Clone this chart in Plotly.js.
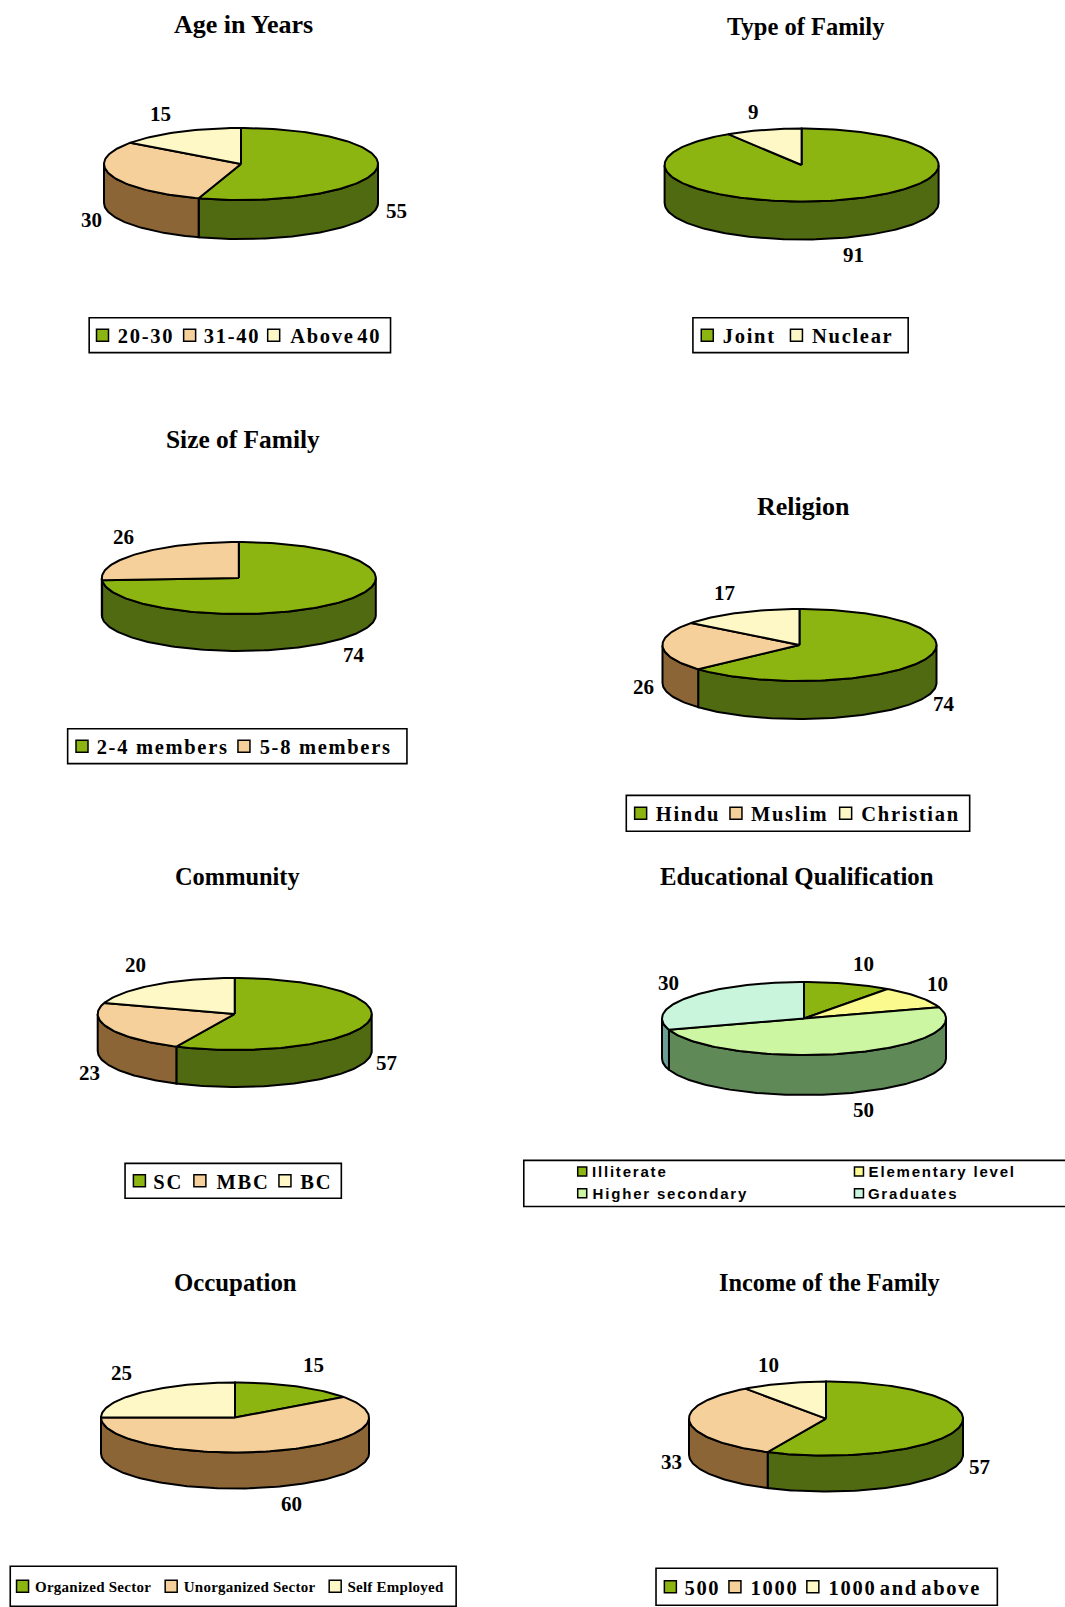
<!DOCTYPE html>
<html><head><meta charset="utf-8">
<script src="https://cdn.plot.ly/plotly-3.0.1.min.js"></script>
<style>html,body{margin:0;padding:0;background:#fff}#chart{width:1065px;height:1607px}</style>
</head><body><div id="chart"></div>
<script>
// ---- values ----
const ageLabels = ["20-30","31-40","Above 40"];
const ageValues = [55,30,15];
const familyLabels = ["Joint","Nuclear"];
const familyValues = [91,9];
const sizeLabels = ["2-4 members","5-8 members"];
const sizeValues = [74,26];
const religionLabels = ["Hindu","Muslim","Christian"];
const religionValues = [74,26,17];
const communityLabels = ["SC","MBC","BC"];
const communityValues = [57,23,20];
const educationLabels = ["Illiterate","Elementary level","Higher secondary","Graduates"];
const educationValues = [10,10,50,30];
const occupationLabels = ["Organized Sector","Unorganized Sector","Self Employed"];
const occupationValues = [15,60,25];
const incomeLabels = ["500","1000","1000 and above"];
const incomeValues = [57,33,10];

// ---- styles ----
const G=["#8cb512","#4f6a10"], P=["#f6d09a","#8b6535"], Y=["#fdf8c6","#8d8a60"],
      E=["#fafa8e","#8c8c50"], H=["#cdf6a2","#5f8a58"], C=["#c9f5dd","#6b9f92"];
const W=1065, HT=1607, S=1065/1039, PAD=6;
const serif="Liberation Serif", sans="Liberation Sans";

// ---- layout of panels ----
const panels=[
 {title:"Age in Years",ts:26,tp:[238,24],labels:ageLabels,values:ageValues,colors:[G,P,Y],cx:241,cy:164,rx:137,ry:36,d:39,
  pos:[[387,206],[89,215],[157,111]],box:[87,310,381,344],sq:[100,185,267],tx:[114,198,282],ws:-4},
 {title:"Type of Family",ts:24.5,tp:[786,26],labels:familyLabels,values:familyValues,colors:[G,Y],cx:801.6,cy:165,rx:137,ry:36.5,d:38,
  pos:[[833,249],[735,109]],box:[676,310,886,344],sq:[690,777],tx:[704,791]},
 {title:"Size of Family",ts:25.4,tp:[237,428],labels:sizeLabels,values:sizeValues,colors:[G,P],cx:238.8,cy:578,rx:137,ry:36,d:37,
  pos:[[345,639],[120,524]],box:[66,711,397,745],sq:[80,238],tx:[93,252]},
 {title:"Religion",ts:26,tp:[784,494],labels:religionLabels,values:religionValues,colors:[G,P,Y],cx:799.5,cy:645,rx:137,ry:36,d:38,
  pos:[[921,687],[628,670],[707,579]],box:[611,776,946,811],sq:[625,718,825],tx:[639,732,839]},
 {title:"Community",ts:24.4,tp:[232,855],labels:communityLabels,values:communityValues,colors:[G,P,Y],cx:234.7,cy:1014,rx:137,ry:36,d:37,
  pos:[[377,1037],[87,1047],[132,941]],box:[122,1135,333,1169],sq:[136,195,278],tx:[149,210,292]},
 {title:"Educational Qualification",ts:24.8,tp:[778,855],labels:educationLabels,values:educationValues,colors:[G,E,H,C],cx:804,cy:1018.5,rx:142,ry:36.5,d:40,
  pos:[[842,940],[915,960],[842,1083],[652,959]],box:[511,1132,1045,1177],sq:[568,838,568,838],tx:[577,846,577,846],row:[1143,1143,1164,1164],
  font:sans,size:15,ls:1.8,dy:0},
 {title:"Occupation",ts:24.8,tp:[230,1251],labels:occupationLabels,values:occupationValues,colors:[G,P,Y],cx:235,cy:1417.5,rx:134,ry:35,d:36,
  pos:[[306,1332],[284,1467],[119,1339]],box:[10,1528,445,1567],sq:[22,167,327],tx:[33,178,338],size:15,ls:0.25},
 {title:"Income of the Family",ts:24.3,tp:[809,1251],labels:incomeLabels,values:incomeValues,colors:[G,P,Y],cx:826,cy:1418.6,rx:137,ry:37,d:36,
  pos:[[956,1431],[655,1426],[750,1332]],box:[640,1530,973,1566],sq:[654,717,793],tx:[667,731,807],ws:-3.5}
];

const traces=[], shapes=[], annotations=[], layout={};
const spacing={};
const px=x=>x/W, py=y=>1-y/HT;
function note(text,x,y,size,opts={}){
  annotations.push(Object.assign({text,x:px(x),y:py(y),xref:"paper",yref:"paper",showarrow:false,
    xanchor:"center",yanchor:"middle",borderpad:0,
    font:{family:opts.family||serif,size,color:"#000",weight:700}},opts.extra||{}));
  if(opts.ls) spacing[annotations.length-1]={ls:opts.ls,ws:opts.ws||0};
}
const STEP=1.5;
function arc(a0,a1){const out=[];const n=Math.max(1,Math.ceil(Math.abs(a1-a0)/STEP));
  for(let i=0;i<=n;i++)out.push(a0+(a1-a0)*i/n);return out;}
const rad=a=>a*Math.PI/180;

panels.forEach((p,k)=>{
  const id=k===0?"":String(k+1), xa="x"+id, ya="y"+id;
  const padX=PAD/p.rx, padY=PAD/p.ry, dep=p.d/p.ry;
  layout["xaxis"+id]={domain:[px(p.cx-p.rx-PAD),px(p.cx+p.rx+PAD)],range:[-1-padX,1+padX],visible:false,fixedrange:true,anchor:ya};
  layout["yaxis"+id]={domain:[py(p.cy+p.ry+p.d+PAD),py(p.cy-p.ry-PAD)],range:[-1-dep-padY,1+padY],visible:false,fixedrange:true,anchor:xa};
  const total=p.values.reduce((a,b)=>a+b,0);
  let acc=0;
  const spans=p.values.map(v=>{const a=acc/total*360;acc+=v;return [a,acc/total*360];});
  // sides: only the front half (90..270 deg clockwise from 12 o'clock) shows
  spans.forEach((s,i)=>{
    const a0=Math.max(s[0],90), a1=Math.min(s[1],270);
    if(a1<=a0) return;
    const top=arc(a0,a1), bot=arc(a1,a0);
    const xs=top.map(a=>Math.sin(rad(a))).concat(bot.map(a=>Math.sin(rad(a))));
    const ys=top.map(a=>Math.cos(rad(a))).concat(bot.map(a=>Math.cos(rad(a))-dep));
    xs.push(xs[0]);ys.push(ys[0]);
    traces.push({type:"scatter",mode:"lines",x:xs,y:ys,xaxis:xa,yaxis:ya,fill:"toself",fillcolor:p.colors[i][1],
      line:{color:"#000",width:2},hoverinfo:"skip",showlegend:false});
  });
  // top faces
  spans.forEach((s,i)=>{
    const t=arc(s[0],s[1]);
    const xs=[0].concat(t.map(a=>Math.sin(rad(a))),[0]);
    const ys=[0].concat(t.map(a=>Math.cos(rad(a))),[0]);
    traces.push({type:"scatter",mode:"lines",x:xs,y:ys,xaxis:xa,yaxis:ya,fill:"toself",fillcolor:p.colors[i][0],
      line:{color:"#000",width:2},name:p.labels[i],text:p.labels[i]+": "+p.values[i],hoverinfo:"text",showlegend:false});
  });
  // title
  note(p.title,p.tp[0]*S,p.tp[1]*S,p.ts);
  // value labels
  p.values.forEach((v,i)=>note(String(v),p.pos[i][0]*S,p.pos[i][1]*S,21));
  // legend frame, swatches and text
  const b=p.box, size=p.size||20.5, ls=p.ls===undefined?1.7:p.ls, ws=p.ws||0, dy=p.dy===undefined?1:p.dy;
  shapes.push({type:"rect",xref:"paper",yref:"paper",x0:px(b[0]*S),x1:px(b[2]*S),y0:py(b[1]*S),y1:py(b[3]*S),
    line:{color:"#000",width:1.6},fillcolor:"#fff",layer:"below"});
  const mid=(b[1]+b[3])/2;
  p.labels.forEach((lab,i)=>{
    const yc=(p.row?p.row[i]:mid)*S, half=p.row?4.5:6;
    const sx=p.sq[i]*S;
    shapes.push({type:"rect",xref:"paper",yref:"paper",x0:px(sx-half),x1:px(sx+half),y0:py(yc-half),y1:py(yc+half),
      line:{color:"#000",width:1.5},fillcolor:p.colors[i][0]});
    // letter/word spacing is not counted when the box is measured, so the text grows both ways: shift by half
    const spaces=lab.split(" ").length-1;
    note(lab,p.tx[i]*S,yc+dy,size,{family:p.font||serif,ls,ws,extra:{xanchor:"left",xshift:(lab.length*ls+spaces*ws)/2}});
  });
});

Object.assign(layout,{width:W,height:HT,margin:{l:0,r:0,t:0,b:0},paper_bgcolor:"#fff",plot_bgcolor:"rgba(0,0,0,0)",
  showlegend:false,hovermode:"closest",shapes,annotations});

const css=Object.entries(spacing).map(([i,v])=>`.annotation[data-index="${i}"] text{letter-spacing:${v.ls}px;word-spacing:${v.ws}px}`).join("\n");
const st=document.createElement("style");st.textContent=css;document.head.appendChild(st);
Plotly.newPlot("chart",traces,layout,{displayModeBar:false});
</script></body></html>
